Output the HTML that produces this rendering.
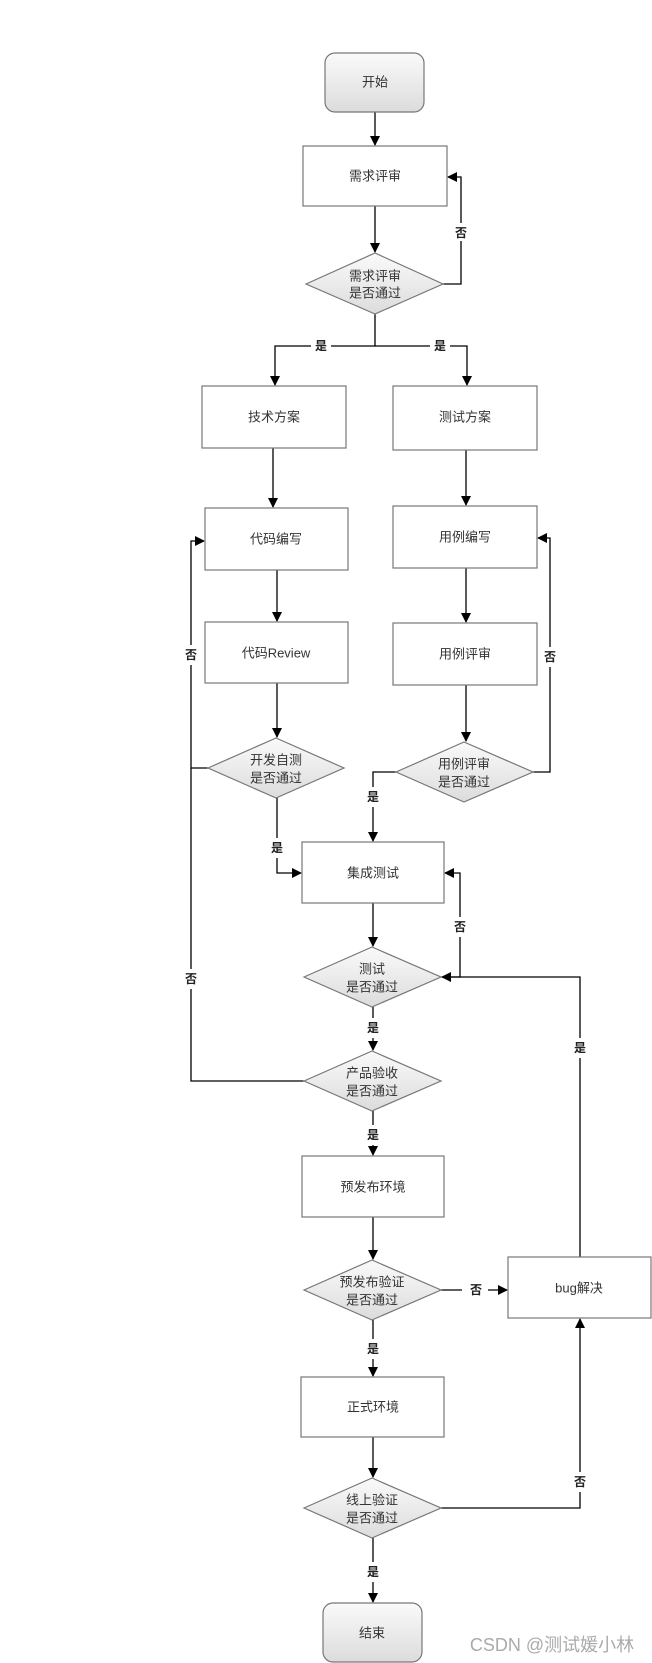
<!DOCTYPE html>
<html><head><meta charset="utf-8"><style>
html,body{margin:0;padding:0;background:#fff;}
svg{display:block;}
text{font-family:"Liberation Sans","Noto Sans CJK SC",sans-serif;font-size:13px;fill:#333;text-anchor:middle;dominant-baseline:central;}
.l{font-size:12px;font-weight:bold;fill:#222;}
</style></head><body>
<svg width="652" height="1663" viewBox="0 0 652 1663" xmlns="http://www.w3.org/2000/svg">
<defs>
<linearGradient id="g" x1="0" y1="0" x2="0" y2="1"><stop offset="0" stop-color="#fafafa"/><stop offset="1" stop-color="#dcdcdc"/></linearGradient>
<marker id="a" markerWidth="10" markerHeight="10" refX="9" refY="5" orient="auto" markerUnits="userSpaceOnUse"><path d="M0,0 L10,5 L0,10 z" fill="#000"/></marker>
</defs>
<g fill="none" stroke="#000" stroke-width="1.3">
<!-- start -> req -->
<path d="M375 112 V145" marker-end="url(#a)"/>
<path d="M375 206 V252" marker-end="url(#a)"/>
<path d="M443 284 H461 V177 H448" marker-end="url(#a)"/>
<path d="M375 314 V346 H275 V385" marker-end="url(#a)"/>
<path d="M375 346 H467 V385" marker-end="url(#a)"/>
<path d="M273 448 V507" marker-end="url(#a)"/>
<path d="M466 450 V505" marker-end="url(#a)"/>
<path d="M277 570 V621" marker-end="url(#a)"/>
<path d="M466 568 V622" marker-end="url(#a)"/>
<path d="M277 683 V737" marker-end="url(#a)"/>
<path d="M466 685 V741" marker-end="url(#a)"/>
<path d="M533 772 H550 V538 H538" marker-end="url(#a)"/>
<path d="M396 772 H373 V841" marker-end="url(#a)"/>
<path d="M277 798 V873 H301" marker-end="url(#a)"/>
<path d="M208 768 H191 V541 H204" marker-end="url(#a)"/>
<path d="M304 1081 H191 V768"/>
<path d="M373 903 V946" marker-end="url(#a)"/>
<path d="M441 977 H460 V873 H445" marker-end="url(#a)"/>
<path d="M580 1257 V977 H442" marker-end="url(#a)"/>
<path d="M373 1007 V1050" marker-end="url(#a)"/>
<path d="M373 1111 V1155" marker-end="url(#a)"/>
<path d="M373 1217 V1259" marker-end="url(#a)"/>
<path d="M441 1290 H507" marker-end="url(#a)"/>
<path d="M373 1320 V1376" marker-end="url(#a)"/>
<path d="M373 1437 V1477" marker-end="url(#a)"/>
<path d="M441 1508 H580 V1319" marker-end="url(#a)"/>
<path d="M373 1538 V1602" marker-end="url(#a)"/>
</g>
<!-- label backgrounds -->
<g fill="#fff">
<rect x="453" y="223" width="16" height="18"/>
<rect x="311" y="337" width="20" height="18"/>
<rect x="430" y="337" width="20" height="18"/>
<rect x="183" y="645" width="16" height="20"/>
<rect x="542" y="647" width="16" height="20"/>
<rect x="365" y="787" width="16" height="20"/>
<rect x="269" y="838" width="16" height="20"/>
<rect x="452" y="917" width="16" height="20"/>
<rect x="183" y="969" width="16" height="20"/>
<rect x="365" y="1018" width="16" height="20"/>
<rect x="572" y="1038" width="16" height="20"/>
<rect x="365" y="1125" width="16" height="20"/>
<rect x="462" y="1281" width="26" height="18"/>
<rect x="365" y="1339" width="16" height="20"/>
<rect x="572" y="1472" width="16" height="20"/>
<rect x="365" y="1562" width="16" height="20"/>
</g>
<g>
<text class="l" x="461" y="233">否</text>
<text class="l" x="321" y="346">是</text>
<text class="l" x="440" y="346">是</text>
<text class="l" x="191" y="655">否</text>
<text class="l" x="550" y="657">否</text>
<text class="l" x="373" y="797">是</text>
<text class="l" x="277" y="848">是</text>
<text class="l" x="460" y="927">否</text>
<text class="l" x="191" y="979">否</text>
<text class="l" x="373" y="1028">是</text>
<text class="l" x="580" y="1048">是</text>
<text class="l" x="373" y="1135">是</text>
<text class="l" x="476" y="1290">否</text>
<text class="l" x="373" y="1349">是</text>
<text class="l" x="580" y="1482">否</text>
<text class="l" x="373" y="1572">是</text>
</g>
<!-- nodes -->
<g stroke="#777" stroke-width="1.2">
<rect x="325" y="53" width="99" height="59" rx="10" fill="url(#g)"/>
<rect x="323" y="1603" width="99" height="59" rx="10" fill="url(#g)"/>
<g fill="#fff">
<rect x="303" y="146" width="144" height="60"/>
<rect x="202" y="386" width="144" height="62"/>
<rect x="393" y="386" width="144" height="64"/>
<rect x="205" y="508" width="143" height="62"/>
<rect x="393" y="506" width="144" height="62"/>
<rect x="205" y="622" width="143" height="61"/>
<rect x="393" y="623" width="144" height="62"/>
<rect x="302" y="842" width="142" height="61"/>
<rect x="302" y="1156" width="142" height="61"/>
<rect x="508" y="1257" width="143" height="61"/>
<rect x="301" y="1377" width="143" height="60"/>
</g>
<g fill="url(#g)">
<polygon points="306,284 375,253 443,284 375,314"/>
<polygon points="208,768 276,738 344,768 276,798"/>
<polygon points="396,772 464,742 533,772 464,802"/>
<polygon points="304,977 372,947 441,977 372,1007"/>
<polygon points="304,1081 372,1051 441,1081 372,1111"/>
<polygon points="304,1290 372,1260 441,1290 372,1320"/>
<polygon points="304,1508 372,1478 441,1508 372,1538"/>
</g>
</g>
<g>
<text x="375" y="82">开始</text>
<text x="375" y="176">需求评审</text>
<text x="375" y="276">需求评审</text><text x="375" y="293">是否通过</text>
<text x="274" y="417">技术方案</text>
<text x="465" y="417">测试方案</text>
<text x="276" y="539">代码编写</text>
<text x="465" y="537">用例编写</text>
<text x="276" y="653">代码Review</text>
<text x="465" y="654">用例评审</text>
<text x="276" y="760">开发自测</text><text x="276" y="778">是否通过</text>
<text x="464" y="764">用例评审</text><text x="464" y="782">是否通过</text>
<text x="373" y="873">集成测试</text>
<text x="372" y="969">测试</text><text x="372" y="987">是否通过</text>
<text x="372" y="1073">产品验收</text><text x="372" y="1091">是否通过</text>
<text x="373" y="1187">预发布环境</text>
<text x="372" y="1282">预发布验证</text><text x="372" y="1300">是否通过</text>
<text x="579" y="1288">bug解决</text>
<text x="373" y="1407">正式环境</text>
<text x="372" y="1500">线上验证</text><text x="372" y="1518">是否通过</text>
<text x="372" y="1633">结束</text>
<text x="552" y="1645" style="font-size:18px;fill:#aaa">CSDN @测试媛小林</text>
</g>
</svg>
</body></html>
